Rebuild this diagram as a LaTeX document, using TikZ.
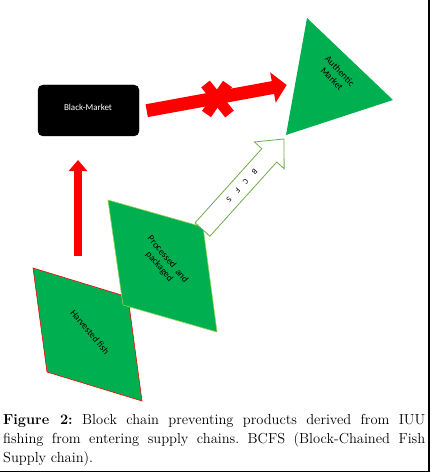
\documentclass[tikz,border=0pt]{standalone}
\usepackage{fontspec}
\newfontfamily\carl{Carlito}
\usetikzlibrary{arrows.meta,calc}
\definecolor{fgreen}{HTML}{00B050}
\definecolor{lgreen}{HTML}{70AD47}
\definecolor{pgreen}{HTML}{92D050}
\begin{document}
\begin{tikzpicture}[x=1pt,y=-1pt,
  shapelabel/.style={font=\carl\fontsize{9.5}{11}\selectfont, text=black, align=center, inner sep=0pt},
  letterlabel/.style={font=\carl\fontsize{8}{8}\selectfont, text=black, inner sep=0pt, rotate=-132},
  redblock/.style={red, line width=#1},
  frame/.style={black, line width=1.5pt}]
\useasboundingbox (0,0) rectangle (431,473);

% Harvested fish
\coordinate (h1) at (33,268);
\coordinate (h2) at (128,297);
\coordinate (h3) at (142,401);
\coordinate (h4) at (47,372);
\filldraw[fill=fgreen, draw=red, line width=0.6pt] (h1)--(h2)--(h3)--(h4)--cycle;
\node[shapelabel, rotate=-50] (hf) at (90,332) {Harvested fish};

% Processed and packaged
\coordinate (p1) at (108,200);
\coordinate (p2) at (203,227);
\coordinate (p3) at (217,332);
\coordinate (p4) at (123,305);
\filldraw[fill=fgreen, draw=pgreen, line width=0.6pt] (p1)--(p2)--(p3)--(p4)--cycle;
\node[shapelabel, rotate=-50] (pp) at (163.5,263) {Processed\ \ and\\packaged};

% Authentic market
\coordinate (a1) at (307,18);
\coordinate (a2) at (393,100);
\coordinate (a3) at (286,135);
\fill[fgreen] (a1)--(a2)--(a3)--cycle;
\node[shapelabel, rotate=-46] (am) at (336,75) {Authentic\\Market};

% Black market
\node[draw=black, fill=black, rounded corners=5pt, minimum width=101pt, minimum height=51pt, inner sep=0pt] (bm) at (88.5,110.5) {};
\node[font=\carl\fontsize{9}{10}\selectfont, text=white, inner sep=0pt] (bmt) at (88,107) {Black-Market};

% Red arrow black market -> authentic market (blocked)
\coordinate (r1s) at ($(bm.east)+(7.5,0.2)$);
\coordinate (r1e) at (286.7,85);
\draw[redblock=13pt, -{Triangle[length=14pt,width=30pt]}] (r1s) -- (r1e);
\coordinate (xc) at (217.5,99);
\draw[redblock=11pt] ($(xc)+(-12,-15)$) -- ($(xc)+(12,15)$);
\draw[redblock=11pt] ($(xc)+(10,-15)$) -- ($(xc)+(-11,15)$);

% Red vertical arrow up to black market
\coordinate (v1s) at (78,256);
\coordinate (v1e) at (78,160);
\draw[redblock=8pt, -{Triangle[length=11pt,width=18pt]}] (v1s) -- (v1e);

% BCFS hollow arrow
\begin{scope}[shift={(202.5,229.5)}, rotate=48]
\draw[lgreen, fill=white, line width=0.8pt] (0,-10) -- (99.8,-10) -- (99.8,-20) -- (121.8,0) -- (99.8,20) -- (99.8,10) -- (0,10) -- cycle;
\node[letterlabel] (lb) at (77.8,0) {B};
\node[letterlabel] (lc) at (64.4,0) {C};
\node[letterlabel] (lf) at (52.3,0) {F};
\node[letterlabel] (ls) at (39.6,0) {S};
\end{scope}

% Caption
\node[anchor=north west, inner sep=0pt, text width=422pt, align=justify, font=\fontsize{14.5}{19}\selectfont\frenchspacing] (cap) at (3,414)
{\textbf{Figure 2:} Block chain preventing products derived from IUU\linebreak fishing from entering supply chains. BCFS (Block-Chained Fish\linebreak Supply chain).};

% Frame lines
\coordinate (f1) at (429,0);
\coordinate (f2) at (429,471.5);
\coordinate (f3) at (0,471.5);
\draw[frame] (f1) -- (f2) -- (f3);
\end{tikzpicture}
\end{document}
